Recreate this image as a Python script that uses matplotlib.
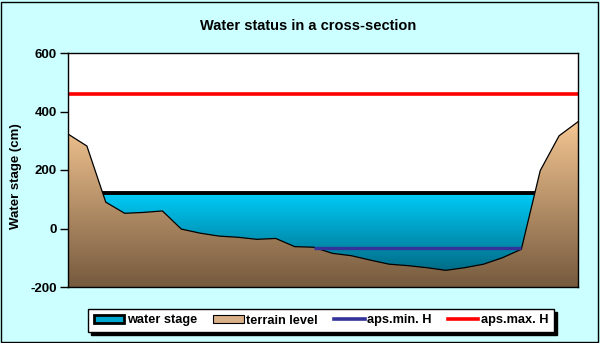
import numpy as np
import matplotlib
matplotlib.use("Agg")
import matplotlib.pyplot as plt
from matplotlib.colors import LinearSegmentedColormap
from matplotlib.patches import Polygon, Rectangle, Patch
from matplotlib.lines import Line2D

# ---- data ----
terrain = [323, 282, 90, 52, 55, 60, -2, -16, -26, -30, -37, -34, -62, -64,
           -85, -93, -108, -122, -127, -134, -143, -134, -122, -100, -71, 198, 317, 365]
water_stage = [120] * 28
aps_min = [np.nan] * 13 + [-65] * 12 + [np.nan] * 3
aps_max = [460] * 28
yticks = [-200, 0, 200, 400, 600]
title = "Water status in a cross-section"
ylabel = "Water stage (cm)"
legend_labels = ["water stage", "terrain level", "aps.min. H", "aps.max. H"]

plt.rcParams['font.family'] = ['Liberation Sans', 'DejaVu Sans']
plt.rcParams['font.weight'] = 'bold'

BG = '#CCFFFF'
fig = plt.figure(figsize=(6.0, 3.43), dpi=100, facecolor=BG)
ax = fig.add_axes([68/600, 1-287/343, 510/600, 234/343])
ax.set_facecolor('white')

x = np.arange(len(terrain))
YMIN, YMAX = -200, 600


def grad_area(vals, c_top, c_bot, top, z, edge_lw, edge_col='black'):
    verts = list(zip(x, vals)) + [(x[-1], YMIN), (x[0], YMIN)]
    poly = Polygon(verts, closed=True, facecolor='none', edgecolor='none', zorder=z)
    ax.add_patch(poly)
    cmap = LinearSegmentedColormap.from_list('g', [c_bot, c_top])
    grad = np.linspace(0, 1, 256).reshape(-1, 1)
    im = ax.imshow(grad, extent=[x[0], x[-1], YMIN, top], origin='lower',
                   aspect='auto', cmap=cmap, zorder=z, interpolation='bilinear')
    im.set_clip_path(poly)
    ax.plot(x, vals, color=edge_col, lw=edge_lw, zorder=z + 0.1, solid_joinstyle='miter')


grad_area(water_stage, '#00CCF8', '#005870', max(water_stage), 1, 2.8)
grad_area(terrain, '#F4C692', '#765A3E', max(terrain), 2, 0.9)

ax.plot(x, aps_min, color='#333399', lw=2.4, zorder=4, solid_capstyle='butt')
ax.plot(x, aps_max, color='#FF0000', lw=2.6, zorder=4, solid_capstyle='butt')

ax.set_xlim(x[0], x[-1])
ax.set_ylim(YMIN, YMAX)
ax.set_xticks([])
ax.set_yticks(yticks)
ax.set_yticklabels([str(v) for v in yticks], fontsize=9.5, fontweight='bold')
ax.tick_params(axis='y', direction='out', length=6, width=1, pad=2)
for s in ax.spines.values():
    s.set_linewidth(1)
    s.set_color('black')
    s.set_zorder(6)

fig.text(16/600, 1-176/343, ylabel, rotation=90, ha='center', va='center',
         fontsize=9.5, fontweight='bold')
fig.text(308.5/600, 1-26/343, title, ha='center', va='center',
         fontsize=10.5, fontweight='bold')

# legend
handles = [
    Patch(facecolor='#00A8D0', edgecolor='black', linewidth=2.0),
    Patch(facecolor='#D8B088', edgecolor='black', linewidth=0.8),
    Line2D([], [], color='#333399', lw=2.6),
    Line2D([], [], color='#FF0000', lw=2.6),
]
leg = fig.legend(handles, legend_labels, loc='center', bbox_to_anchor=(321/600, 1-320.5/343),
                 ncol=4, fontsize=9.2, frameon=True, fancybox=False,
                 edgecolor='black', facecolor='white', framealpha=1,
                 handlelength=2.4, handleheight=0.6, handletextpad=0.2,
                 columnspacing=1.25, borderpad=0.45,
                 shadow={'color': 'black', 'alpha': 1, 'ox': 2, 'oy': -2})
leg.get_frame().set_linewidth(1)
for t in leg.get_texts():
    t.set_fontweight('bold')

# outer border
fig.add_artist(Rectangle((0.5/600, 1.5/343), 597/600, 340/343, transform=fig.transFigure,
                         facecolor='none', edgecolor='black', lw=1))

fig.savefig('out.png', dpi=100, facecolor=BG)
